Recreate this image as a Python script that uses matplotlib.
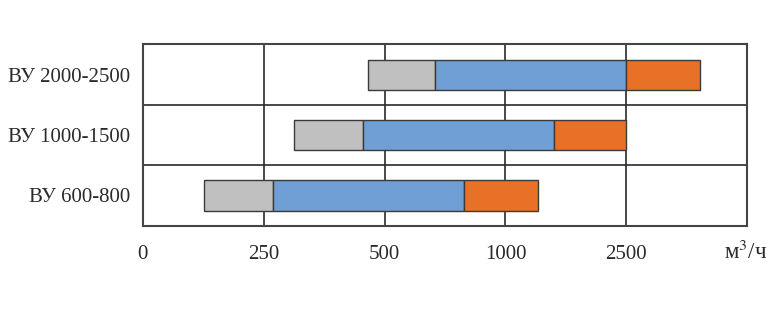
import matplotlib.pyplot as plt

plt.rcParams['font.family'] = ['Liberation Serif', 'DejaVu Serif']
plt.rcParams['mathtext.fontset'] = 'stix'

# categories, bottom to top
units = ['ВУ 600-800', 'ВУ 1000-1500', 'ВУ 2000-2500']
tick_labels = ['0', '250', '500', '1000', '2500']

# segment boundaries, in positions along the (non-linear) flow axis
gray_start = [0.51, 1.25, 1.86]
blue_start = [1.08, 1.82, 2.42]
orange_start = [2.66, 3.40, 4.00]
orange_end = [3.27, 4.00, 4.61]

gray_c = '#bfc0bf'
blue_c = '#6f9fd5'
orange_c = '#e97027'
edge = '#3a3a3a'
text_c = '#2a2a2a'

fig = plt.figure(figsize=(7.8, 3.2), dpi=100)
ax = fig.add_axes([0.183, 0.295, 0.775, 0.566])

y = list(range(len(units)))
gray_w = [b - a for a, b in zip(gray_start, blue_start)]
blue_w = [b - a for a, b in zip(blue_start, orange_start)]
orange_w = [b - a for a, b in zip(orange_start, orange_end)]

# grid lines first so bars sit on top
for i in range(1, 5):
    ax.axvline(i, color='#2a2a2a', lw=1.2, zorder=1)
for yy in [0.5, 1.5]:
    ax.axhline(yy, color='#2a2a2a', lw=1.2, zorder=1)

ax.barh(y, gray_w, left=gray_start, height=0.5, color=gray_c, edgecolor=edge, lw=1, zorder=3)
ax.barh(y, blue_w, left=blue_start, height=0.5, color=blue_c, edgecolor=edge, lw=1, zorder=3)
ax.barh(y, orange_w, left=orange_start, height=0.5, color=orange_c, edgecolor=edge, lw=1, zorder=3)

ax.set_xlim(0, 5)
ax.set_ylim(-0.5, 2.5)
ax.set_xticks(range(len(tick_labels)))
ax.set_xticklabels(tick_labels, fontsize=15, color=text_c)
ax.set_yticks(y)
ax.set_yticklabels(units, fontsize=15, color=text_c)
ax.tick_params(axis='both', length=0)
ax.tick_params(axis='x', pad=14)
ax.tick_params(axis='y', pad=9)
for s in ax.spines.values():
    s.set_color('#444444')
    s.set_linewidth(1.5)

# unit label at the right end of the axis
ax.annotate('м$^3$/ч', xy=(5, 0), xycoords=('data', 'axes fraction'),
            xytext=(-1, -24), textcoords='offset points',
            ha='center', va='baseline', fontsize=16.5, color=text_c)

fig.savefig('out.png', dpi=100)
